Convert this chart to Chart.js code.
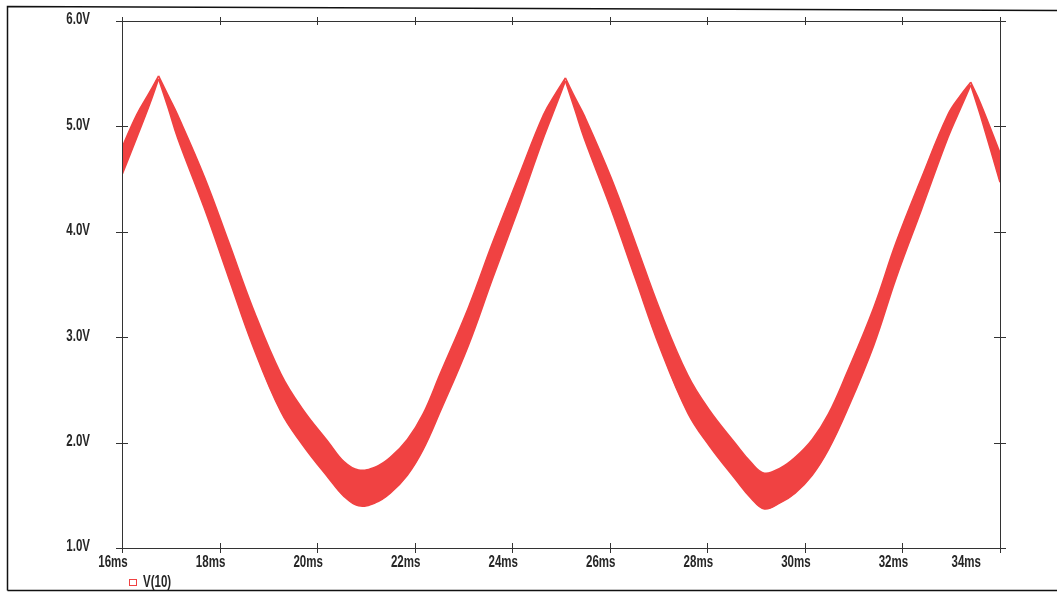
<!DOCTYPE html>
<html>
<head>
<meta charset="utf-8">
<script src="https://cdn.jsdelivr.net/npm/chart.js@4.4.1/dist/chart.umd.min.js"></script>
<style>
  html, body { margin: 0; padding: 0; background: #fff; }
  #wrap { width: 1057px; height: 595px; position: relative; }
</style>
</head>
<body>
<div id="wrap"><canvas id="scope"></canvas></div>
<script>
// transient run, node V(10): time in ms, ripple envelope in volts
const timeMs = [16.00, 16.30, 16.56, 16.75, 16.95, 17.14, 17.69, 18.19, 18.68, 19.26,
                19.70, 20.24, 20.55, 20.85, 21.20, 21.50, 21.85, 22.17, 22.52, 23.10,
                23.60, 24.12, 24.64, 24.90, 25.09, 25.29, 25.48, 26.03, 26.53, 27.02,
                27.60, 28.04, 28.58, 28.90, 29.17, 29.50, 29.80, 30.15, 30.48, 30.85,
                31.41, 31.87, 32.39, 32.93, 33.20, 33.40, 33.60, 34.00];
const vUpper = [4.80, 5.11, 5.32, 5.48, 5.29, 5.11, 4.52, 3.90, 3.28, 2.65,
                2.32, 2.00, 1.82, 1.74, 1.77, 1.86, 2.03, 2.27, 2.65, 3.28,
                3.90, 4.51, 5.11, 5.32, 5.46, 5.27, 5.10, 4.51, 3.89, 3.27,
                2.64, 2.31, 1.99, 1.81, 1.71, 1.76, 1.86, 2.03, 2.27, 2.65,
                3.28, 3.90, 4.51, 5.11, 5.30, 5.42, 5.22, 4.75];
const vLower = [4.54, 4.89, 5.20, 5.45, 5.17, 4.89, 4.22, 3.56, 2.92, 2.29,
                1.98, 1.66, 1.49, 1.40, 1.43, 1.52, 1.69, 1.93, 2.29, 2.92,
                3.56, 4.21, 4.89, 5.20, 5.43, 5.15, 4.88, 4.21, 3.55, 2.91,
                2.28, 1.97, 1.65, 1.47, 1.37, 1.43, 1.52, 1.69, 1.93, 2.29,
                2.92, 3.56, 4.21, 4.89, 5.18, 5.39, 5.10, 4.47];

const xMin = 16, xMax = 34, xStep = 2;
const yMin = 1, yMax = 6, yStep = 1;
const traceName = 'V(10)';

const traceColor = 'rgb(240, 66, 66)';
const inkColor = '#262626';
const labelFont = 'bold 16px "Liberation Sans", Arial, sans-serif';

// the waveform has sharp tops, so split it at each peak and let the
// smooth interpolation run only between peaks
const breaks = [0];
for (let i = 1; i < vUpper.length - 1; i++) {
  if (vUpper[i] > vUpper[i - 1] && vUpper[i] > vUpper[i + 1]) breaks.push(i);
}
breaks.push(vUpper.length - 1);

const slice = (vals, a, b) => vals.slice(a, b + 1).map((v, k) => ({ x: timeMs[a + k], y: v }));

const datasets = [];
for (let s = 0; s < breaks.length - 1; s++) {
  const a = breaks[s], b = breaks[s + 1];
  const common = {
    borderColor: traceColor,
    borderWidth: 1.5,
    pointRadius: 0,
    tension: 0.4
  };
  datasets.push({ ...common, label: traceName + ' lo', data: slice(vLower, a, b), fill: false });
  datasets.push({ ...common, label: traceName, data: slice(vUpper, a, b),
                  backgroundColor: traceColor, fill: '-1' });
}

// probe labels use a condensed face, so squeeze the text horizontally
function narrowText(ctx, text, x, y, align) {
  ctx.save();
  ctx.translate(x, y);
  ctx.scale(0.72, 1);
  ctx.textAlign = align;
  ctx.fillText(text, 0, 0);
  ctx.restore();
}

// frame, tick marks on all four sides, axis labels and the trace legend
const probeFrame = {
  id: 'probeFrame',
  afterDraw(chart) {
    const { ctx, chartArea: a, scales } = chart;
    const xs = scales.x, ys = scales.y;
    ctx.save();

    // outer page border
    ctx.strokeStyle = '#111';
    ctx.lineWidth = 1.5;
    ctx.beginPath();
    ctx.moveTo(7.5, 590.5);
    ctx.lineTo(7.5, 6.5);
    ctx.lineTo(1057, 10.5);
    ctx.moveTo(7.5, 590.5);
    ctx.lineTo(1057, 590.5);
    ctx.stroke();

    // plot box
    ctx.strokeStyle = '#333';
    ctx.lineWidth = 1;
    ctx.strokeRect(Math.round(a.left) + 0.5, Math.round(a.top) + 0.5,
                   Math.round(a.width), Math.round(a.height));

    // crossing tick marks
    ctx.beginPath();
    xs.ticks.forEach(t => {
      const px = Math.round(xs.getPixelForValue(t.value)) + 0.5;
      ctx.moveTo(px, a.bottom - 5); ctx.lineTo(px, a.bottom + 5);
      ctx.moveTo(px, a.top - 4); ctx.lineTo(px, a.top + 4);
    });
    ys.ticks.forEach(t => {
      const py = Math.round(ys.getPixelForValue(t.value)) + 0.5;
      ctx.moveTo(a.left - 6, py); ctx.lineTo(a.left + 6, py);
      ctx.moveTo(a.right - 6, py); ctx.lineTo(a.right + 6, py);
    });
    ctx.stroke();

    ctx.font = labelFont;
    ctx.fillStyle = inkColor;
    ctx.textBaseline = 'middle';

    // y labels
    ys.ticks.forEach(t => {
      const py = ys.getPixelForValue(t.value);
      narrowText(ctx, t.value.toFixed(1) + 'V', a.left - 32, py - 1, 'right');
    });

    // x labels sit a little left of their ticks, last one pulled inside
    xs.ticks.forEach((t, i) => {
      const px = xs.getPixelForValue(t.value);
      const text = t.value + 'ms';
      if (i === xs.ticks.length - 1) {
        narrowText(ctx, text, a.right - 19, a.bottom + 15, 'right');
      } else {
        narrowText(ctx, text, px - 9, a.bottom + 15, 'center');
      }
    });

    // trace legend
    ctx.strokeStyle = traceColor;
    ctx.lineWidth = 1;
    ctx.strokeRect(129.5, 579.5, 7, 6);
    narrowText(ctx, traceName, 143, 583, 'left');
    ctx.restore();
  }
};

new Chart(document.getElementById('scope'), {
  type: 'line',
  data: { datasets },
  options: {
    responsive: true,
    maintainAspectRatio: false,
    animation: false,
    layout: { padding: { left: 122, top: 21, right: 57, bottom: 47 } },
    plugins: {
      legend: { display: false },
      tooltip: { enabled: false }
    },
    scales: {
      x: {
        type: 'linear',
        min: xMin,
        max: xMax,
        display: false,
        ticks: { stepSize: xStep }
      },
      y: {
        type: 'linear',
        min: yMin,
        max: yMax,
        display: false,
        ticks: { stepSize: yStep }
      }
    }
  },
  plugins: [probeFrame]
});
</script>
</body>
</html>
